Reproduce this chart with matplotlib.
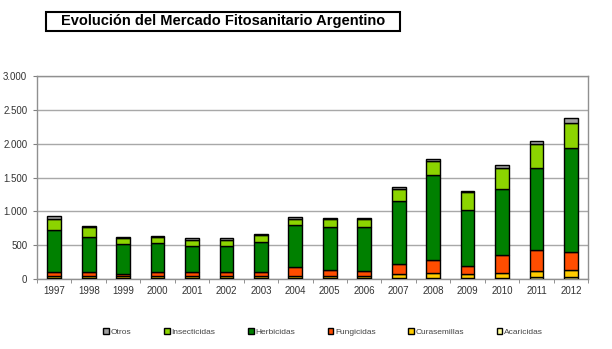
import numpy as np
import matplotlib.pyplot as plt
from matplotlib.patches import Rectangle
from matplotlib.ticker import FuncFormatter, FixedLocator

years = [str(y) for y in range(1997, 2013)]

acaricidas = [15, 15, 12, 12, 12, 12, 12, 12, 15, 15, 15, 20, 15, 20, 25, 25]
curasemillas = [30, 30, 28, 30, 30, 30, 30, 27, 34, 34, 59, 69, 59, 64, 98, 108]
fungicidas = [53, 53, 39, 56, 61, 56, 56, 143, 84, 74, 153, 187, 123, 276, 306, 270]
herbicidas = [631, 528, 443, 439, 389, 394, 449, 621, 635, 650, 931, 1261, 823, 965, 1216, 1529]
insecticidas = [158, 138, 84, 79, 89, 89, 99, 89, 114, 109, 177, 212, 261, 320, 350, 378]
otros = [44, 19, 20, 24, 25, 21, 14, 24, 15, 19, 25, 25, 24, 35, 49, 75]

# stacked from the bottom up
series = [
    ("Acaricidas", acaricidas, "#FFFF99"),
    ("Curasemillas", curasemillas, "#FFCC00"),
    ("Fungicidas", fungicidas, "#FF4D00"),
    ("Herbicidas", herbicidas, "#008000"),
    ("Insecticidas", insecticidas, "#8CD400"),
    ("Otros", otros, "#A0A0A0"),
]

plt.rcParams['font.family'] = ['Liberation Sans', 'DejaVu Sans']

fig = plt.figure(figsize=(6.12, 3.49), dpi=100)
ax = fig.add_axes([0.0605, 0.2006, 0.9005, 0.5814])

x = np.arange(len(years))
bottom = np.zeros(len(years))
handles = {}
for name, vals, col in series:
    b = ax.bar(x, vals, 0.4, bottom=bottom, color=col, edgecolor="black",
               linewidth=1.0, label=name, zorder=3)
    handles[name] = b
    bottom += np.array(vals)

ax.set_xlim(-0.5, len(years) - 0.5)
ax.set_ylim(0, 3000)
ax.set_yticks(np.arange(0, 3001, 500))
ax.yaxis.set_major_formatter(FuncFormatter(lambda v, p: f"{int(v):,}".replace(",", ".")))
ax.yaxis.grid(True, color="#A8A8A8", linewidth=1.0, zorder=0)

ax.set_xticks(x)
ax.set_xticklabels(years)
ax.xaxis.set_minor_locator(FixedLocator(np.arange(-0.5, len(years), 1.0)))
ax.tick_params(axis="x", which="major", length=0, pad=5)
ax.tick_params(axis="x", which="minor", length=3, color="#808080")
ax.tick_params(axis="y", length=3, color="#808080", pad=4)
ax.tick_params(labelsize=7, labelcolor="#333333")

for s in ax.spines.values():
    s.set_color("#909090")
    s.set_linewidth(1.0)

order = ["Otros", "Insecticidas", "Herbicidas", "Fungicidas", "Curasemillas", "Acaricidas"]
fig.legend([handles[n] for n in order], order, loc="center", bbox_to_anchor=(0.528, 0.049),
           ncol=6, frameon=False, fontsize=6, handlelength=0.7, handleheight=0.7,
           handletextpad=0.2, columnspacing=3.9, labelcolor="#444444")

# boxed title
fig.patches.append(Rectangle((46 / 612, 1 - 31 / 349), 354 / 612, 19 / 349,
                             transform=fig.transFigure, facecolor="white",
                             edgecolor="black", linewidth=1.5))
fig.text(223 / 612, 1 - 21.5 / 349, "Evolución del Mercado Fitosanitario Argentino",
         ha="center", va="center", fontsize=10.5, fontweight="bold")

fig.savefig("out.png", dpi=100)
